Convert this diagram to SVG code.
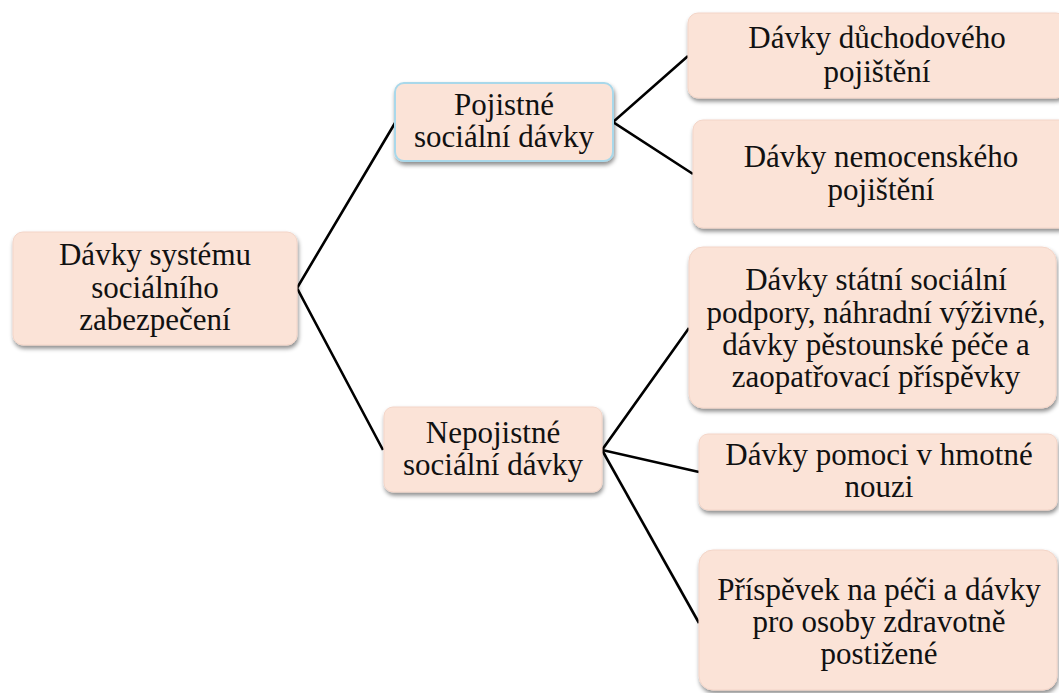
<svg xmlns="http://www.w3.org/2000/svg" width="1059" height="693" viewBox="0 0 1059 693">
<style>
.box{fill:#fbe3d7;stroke:#f3d5c8;stroke-width:1;filter:url(#sh)}
.blue{stroke:#a9d8ea;stroke-width:2}
text{font-size:31px;fill:#111;text-anchor:middle}
.c{stroke:#000;stroke-width:2.6;fill:none;stroke-linejoin:miter}
</style>
<defs>
<filter id="sh" x="-10%" y="-10%" width="120%" height="130%">
<feDropShadow dx="1" dy="3" stdDeviation="2" flood-color="#000" flood-opacity="0.45"/>
</filter>
</defs>
<rect width="1059" height="693" fill="#fff"/>
<g id="connectors">
<polyline class="c" points="395,123 297,288 383,450"/>
<polyline class="c" points="688,56 613,122 693,174"/>
<polyline class="c" points="689,328 602,450 699,472"/>
<line class="c" x1="602" y1="450" x2="699" y2="623"/>
</g>
<g font-family="Liberation Serif, serif">
<g id="root">
<rect class="box" x="13" y="232" width="284" height="113" rx="10"/>
<text x="155" y="265">Dávky systému</text>
<text x="155" y="298">sociálního</text>
<text x="155" y="330">zabezpečení</text>
</g>
<g id="pojistne">
<rect class="box blue" x="395" y="83" width="218" height="78" rx="9"/>
<text x="504" y="115">Pojistné</text>
<text x="504" y="147">sociální dávky</text>
</g>
<g id="nepojistne">
<rect class="box" x="384" y="407" width="218" height="85" rx="9"/>
<text x="493" y="443">Nepojistné</text>
<text x="493" y="475">sociální dávky</text>
</g>
<g id="duchodove">
<rect class="box" x="688" y="13" width="378" height="85" rx="10"/>
<text x="877" y="48">Dávky důchodového</text>
<text x="877" y="82">pojištění</text>
</g>
<g id="nemocenske">
<rect class="box" x="693" y="120" width="376" height="108" rx="10"/>
<text x="881" y="167">Dávky nemocenského</text>
<text x="881" y="200">pojištění</text>
</g>
<g id="statni">
<rect class="box" x="689" y="247" width="367" height="161" rx="14"/>
<text x="876" y="290">Dávky státní sociální</text>
<text x="876" y="323">podpory, náhradní výživné,</text>
<text x="876" y="355">dávky pěstounské péče a</text>
<text x="876" y="387">zaopatřovací příspěvky</text>
</g>
<g id="hmotna">
<rect class="box" x="699" y="434" width="358" height="76" rx="9"/>
<text x="879" y="465">Dávky pomoci v hmotné</text>
<text x="879" y="497">nouzi</text>
</g>
<g id="pece">
<rect class="box" x="699" y="550" width="358" height="140" rx="14"/>
<text x="879" y="600">Příspěvek na péči a dávky</text>
<text x="879" y="632">pro osoby zdravotně</text>
<text x="879" y="664">postižené</text>
</g>
</g>
</svg>
